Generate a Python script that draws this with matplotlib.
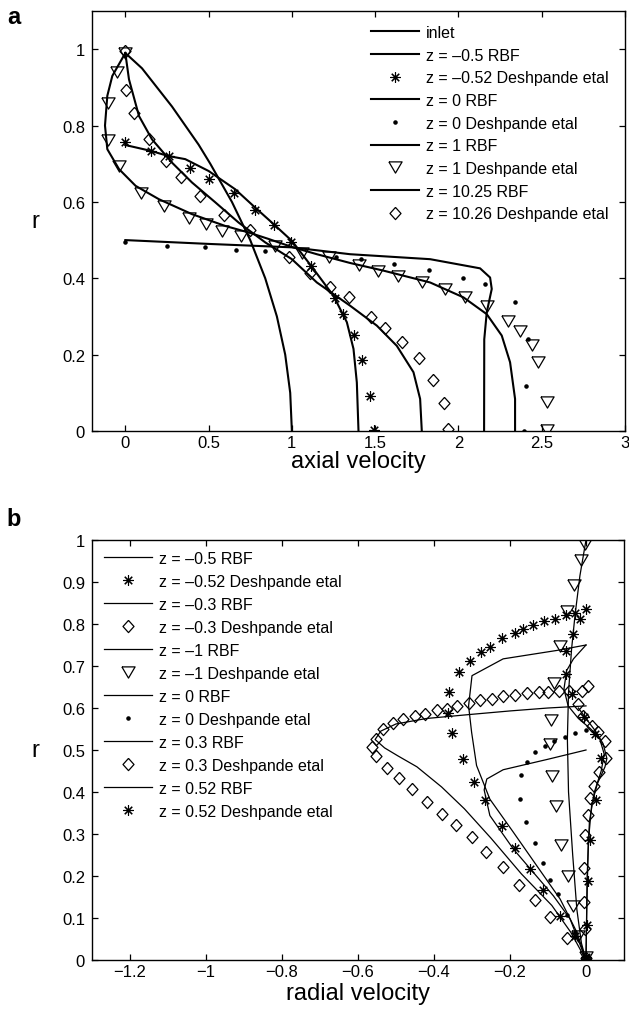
import matplotlib
matplotlib.use("Agg")
import matplotlib.pyplot as plt

plt.rcParams['font.family'] = ['Liberation Sans', 'DejaVu Sans']
plt.rcParams['axes.unicode_minus'] = True

# ---------------- Panel a data (axial velocity u vs r) ----------------
inlet_u = [0.0, 0.1, 0.19, 0.28, 0.36, 0.44, 0.51, 0.64, 0.75, 0.84, 0.91, 0.96, 0.99, 1.0]
inlet_r = [0.99, 0.95, 0.9, 0.85, 0.8, 0.75, 0.7, 0.6, 0.5, 0.4, 0.3, 0.2, 0.1, 0.0]

rbf_m05_u = [0.0, 0.15, 0.26, 0.36, 0.50, 0.66, 0.78, 0.89, 1.0, 1.12, 1.25, 1.33, 1.37, 1.39, 1.40]
rbf_m05_r = [0.749, 0.734, 0.72, 0.712, 0.681, 0.633, 0.585, 0.542, 0.498, 0.43, 0.354, 0.285, 0.215, 0.127, 0.0]

des_m052_u = [0.0, 0.152, 0.262, 0.386, 0.502, 0.652, 0.778, 0.892, 0.996, 1.114, 1.26, 1.306, 1.37, 1.424, 1.47, 1.494]
des_m052_r = [0.756, 0.734, 0.719, 0.688, 0.66, 0.623, 0.58, 0.54, 0.495, 0.433, 0.348, 0.306, 0.251, 0.187, 0.091, 0.003]

rbf_0_u = [0.0, 0.5, 1.0, 1.35, 1.83, 2.13, 2.19, 2.20, 2.17, 2.155, 2.154]
rbf_0_r = [0.5, 0.49, 0.481, 0.463, 0.45, 0.426, 0.402, 0.372, 0.311, 0.24, 0.0]

des_0_u = [0.0, 0.248, 0.478, 0.666, 0.836, 1.266, 1.414, 1.614, 1.824, 2.03, 2.16, 2.34, 2.42, 2.404, 2.395]
des_0_r = [0.494, 0.485, 0.481, 0.475, 0.472, 0.457, 0.45, 0.437, 0.422, 0.402, 0.385, 0.337, 0.24, 0.119, 0.0]

rbf_1_u = [0.0, -0.078, -0.108, -0.122, -0.108, -0.038, 0.062, 0.202, 0.40, 0.60, 0.74, 0.86, 1.0, 1.15,
           1.35, 1.55, 1.83, 2.03, 2.17, 2.26, 2.31, 2.34, 2.34]
rbf_1_r = [0.99, 0.93, 0.878, 0.80, 0.738, 0.686, 0.642, 0.607, 0.568, 0.537, 0.52, 0.503, 0.482, 0.463,
           0.44, 0.42, 0.389, 0.35, 0.306, 0.25, 0.18, 0.084, 0.0]

des_1_u = [0.0, -0.052, -0.104, -0.104, -0.038, 0.096, 0.233, 0.384, 0.484, 0.582, 0.693, 0.90, 1.063, 1.223,
           1.40, 1.52, 1.64, 1.78, 1.92, 2.04, 2.17, 2.30, 2.37, 2.44, 2.48, 2.53, 2.53]
des_1_r = [0.99, 0.94, 0.86, 0.762, 0.694, 0.624, 0.589, 0.559, 0.541, 0.524, 0.51, 0.484, 0.466, 0.455,
           0.434, 0.42, 0.405, 0.389, 0.372, 0.35, 0.328, 0.289, 0.263, 0.225, 0.181, 0.075, 0.003]

rbf_1025_u = [0.0, 0.022, 0.082, 0.16, 0.28, 0.40, 0.54, 0.68, 0.84, 1.0, 1.15, 1.35, 1.51, 1.63, 1.73, 1.77, 1.78]
rbf_1025_r = [0.99, 0.921, 0.825, 0.764, 0.703, 0.651, 0.599, 0.546, 0.494, 0.45, 0.389, 0.328, 0.276, 0.223,
              0.154, 0.084, 0.0]

des_1026_u = [0.0, 0.006, 0.05, 0.14, 0.246, 0.334, 0.45, 0.59, 0.746, 0.98, 1.11, 1.23, 1.345, 1.476, 1.56,
              1.664, 1.764, 1.846, 1.916, 1.94]
des_1026_r = [0.996, 0.893, 0.832, 0.766, 0.708, 0.664, 0.616, 0.565, 0.526, 0.455, 0.414, 0.377, 0.35, 0.299,
              0.271, 0.232, 0.19, 0.134, 0.073, 0.004]

# ---------------- Panel b data (radial velocity v vs r) ----------------
rbf_b_m05_v = [0.0, -0.077, -0.218, -0.30, -0.309, -0.301, -0.288, -0.253, -0.191, -0.13, -0.068, -0.024, 0.0]
rbf_b_m05_r = [0.75, 0.737, 0.717, 0.677, 0.605, 0.542, 0.463, 0.383, 0.304, 0.225, 0.145, 0.066, 0.0]

des_b_m052_v = [0.0, -0.029, -0.053, -0.082, -0.111, -0.139, -0.165, -0.187, -0.222, -0.253, -0.277, -0.305,
                -0.333, -0.36, -0.362, -0.353, -0.324, -0.294, -0.266, -0.222, -0.187, -0.147, -0.112, -0.068,
                -0.03, 0.0]
des_b_m052_r = [0.836, 0.826, 0.821, 0.812, 0.806, 0.798, 0.788, 0.778, 0.766, 0.745, 0.733, 0.713,
                0.685, 0.639, 0.588, 0.54, 0.479, 0.425, 0.381, 0.32, 0.267, 0.217, 0.167, 0.105,
                0.057, 0.006]

rbf_b_m03_v = [0.0, -0.1, -0.2, -0.3, -0.42, -0.5, -0.54, -0.555, -0.53, -0.495, -0.445, -0.38, -0.32, -0.25,
               -0.17, -0.09, -0.04, 0.0]
rbf_b_m03_r = [0.605, 0.6, 0.593, 0.585, 0.575, 0.562, 0.545, 0.525, 0.505, 0.486, 0.46, 0.412, 0.36, 0.29,
               0.205, 0.13, 0.066, 0.0]

des_b_m03_v = [0.005, -0.011, -0.044, -0.072, -0.099, -0.125, -0.156, -0.187, -0.218, -0.248, -0.279, -0.309,
               -0.34, -0.367, -0.393, -0.424, -0.45, -0.481, -0.508, -0.534, -0.553, -0.562, -0.553, -0.524,
               -0.492, -0.459, -0.418, -0.38, -0.342, -0.301, -0.264, -0.218, -0.176, -0.134, -0.095, -0.049, 0.0]
des_b_m03_r = [0.653, 0.641, 0.641, 0.64, 0.639, 0.637, 0.636, 0.631, 0.628, 0.621, 0.619, 0.613,
               0.605, 0.598, 0.596, 0.586, 0.58, 0.574, 0.564, 0.55, 0.526, 0.506, 0.486, 0.456,
               0.433, 0.406, 0.377, 0.348, 0.322, 0.292, 0.256, 0.221, 0.179, 0.144, 0.102, 0.052, 0.0]

rbf_b_m1_v = [0.0, -0.016, -0.029, -0.038, -0.046, -0.049, -0.046, -0.035, -0.024, -0.012, 0.0]
rbf_b_m1_r = [1.0, 0.915, 0.82, 0.74, 0.637, 0.526, 0.4, 0.25, 0.12, 0.04, 0.0]

des_b_m1_v = [-0.003, -0.013, -0.031, -0.051, -0.068, -0.084, -0.092, -0.096, -0.09, -0.079, -0.066, -0.048,
              -0.033, -0.02, 0.0]
des_b_m1_r = [0.99, 0.952, 0.893, 0.832, 0.747, 0.66, 0.572, 0.514, 0.439, 0.366, 0.274, 0.199,
              0.128, 0.056, 0.006]

rbf_b_0_v = [0.0, -0.1, -0.218, -0.261, -0.268, -0.253, -0.191, -0.139, -0.086, -0.042, 0.0]
rbf_b_0_r = [0.5, 0.478, 0.453, 0.431, 0.405, 0.344, 0.264, 0.209, 0.153, 0.098, 0.0]

des_b_0_v = [0.0, -0.029, -0.056, -0.084, -0.107, -0.134, -0.154, -0.17, -0.174, -0.157, -0.134, -0.112,
             -0.095, -0.075, -0.05, -0.029, 0.0]
des_b_0_r = [0.548, 0.54, 0.531, 0.522, 0.51, 0.495, 0.472, 0.441, 0.384, 0.328, 0.278, 0.232,
             0.19, 0.156, 0.106, 0.066, 0.005]

rbf_b_03_v = [-0.02, 0.0, 0.025, 0.045, 0.055, 0.05, 0.03, 0.015, 0.006, 0.002, 0.0]
rbf_b_03_r = [0.6, 0.575, 0.545, 0.515, 0.48, 0.46, 0.42, 0.37, 0.28, 0.12, 0.0]

des_b_03_v = [-0.02, -0.007, 0.015, 0.032, 0.05, 0.053, 0.035, 0.021, 0.011, 0.004, -0.003, -0.006, -0.005,
              -0.003, 0.0]
des_b_03_r = [0.61, 0.582, 0.558, 0.542, 0.522, 0.48, 0.447, 0.415, 0.385, 0.345, 0.298, 0.218, 0.137,
              0.074, 0.005]

rbf_b_052_v = [0.0, -0.033, -0.051, -0.058, -0.047, -0.02, 0.01, 0.035, 0.048, 0.04, 0.022, 0.009, 0.003, 0.0]
rbf_b_052_r = [0.75, 0.717, 0.689, 0.645, 0.605, 0.575, 0.552, 0.53, 0.49, 0.45, 0.4, 0.33, 0.2, 0.0]

des_b_052_v = [-0.016, -0.033, -0.053, -0.053, -0.038, -0.006, 0.024, 0.039, 0.025, 0.01, 0.004, 0.002, 0.0]
des_b_052_r = [0.812, 0.776, 0.736, 0.681, 0.633, 0.578, 0.538, 0.482, 0.38, 0.285, 0.187, 0.084, 0.003]

# labels
legend_a = ['inlet', 'z = \u20130.5 RBF', 'z = \u20130.52 Deshpande etal', 'z = 0 RBF',
            'z = 0 Deshpande etal', 'z = 1 RBF', 'z = 1 Deshpande etal', 'z = 10.25 RBF',
            'z = 10.26 Deshpande etal']
legend_b = ['z = \u20130.5 RBF', 'z = \u20130.52 Deshpande etal', 'z = \u20130.3 RBF',
            'z = \u20130.3 Deshpande etal', 'z = \u20131 RBF', 'z = \u20131 Deshpande etal',
            'z = 0 RBF', 'z = 0 Deshpande etal', 'z = 0.3 RBF', 'z = 0.3 Deshpande etal',
            'z = 0.52 RBF', 'z = 0.52 Deshpande etal']
xticks_a = [0, 0.5, 1, 1.5, 2, 2.5, 3]
xticklabels_a = ['0', '0.5', '1', '1.5', '2', '2.5', '3']
yticks_a = [0, 0.2, 0.4, 0.6, 0.8, 1]
yticklabels_a = ['0', '0.2', '0.4', '0.6', '0.8', '1']
xticks_b = [-1.2, -1.0, -0.8, -0.6, -0.4, -0.2, 0]
xticklabels_b = ['\u22121.2', '\u22121', '\u22120.8', '\u22120.6', '\u22120.4', '\u22120.2', '0']
yticks_b = [0, 0.1, 0.2, 0.3, 0.4, 0.5, 0.6, 0.7, 0.8, 0.9, 1]
yticklabels_b = ['0', '0.1', '0.2', '0.3', '0.4', '0.5', '0.6', '0.7', '0.8', '0.9', '1']

# marker shapes
AST = (8, 2, 0)
TRI = [(-1, 0.85), (1, 0.85), (0, -0.85), (-1, 0.85)]
DIA = [(0, 1), (0.9, 0), (0, -1), (-0.9, 0), (0, 1)]

ms_ast, ms_tri, ms_dia, ms_dot = 7.5, 9.5, 8.8, 4.5

fig = plt.figure(figsize=(6.29, 10.12), dpi=100)
W, H = 629, 1012
ax_a = fig.add_axes([92 / W, 1 - 432 / H, 533 / W, 420 / H])
ax_b = fig.add_axes([92 / W, 1 - 961 / H, 532 / W, 420 / H])

TICKFS = 12
LEGFS = 11.5


def style(ax):
    for s in ax.spines.values():
        s.set_linewidth(1.0)
        s.set_color('black')
    ax.tick_params(direction='in', top=True, right=True, length=4.5, width=0.9,
                   labelsize=TICKFS, pad=3, colors='black')
    ax.tick_params(axis='y', pad=5)


def mk(ax, x, y, marker, ms, lw=0.9):
    kw = dict(linestyle='none', marker=marker, markersize=ms, color='black')
    if marker == '.':
        pass
    elif marker == AST:
        kw['markeredgewidth'] = 0.8
    else:
        kw['markerfacecolor'] = 'none'
        kw['markeredgewidth'] = lw
    return ax.plot(x, y, **kw)[0]


# -------- Panel a --------
LWa = 1.5
h = []
h.append(ax_a.plot(inlet_u, inlet_r, color='black', lw=LWa)[0])
h.append(ax_a.plot(rbf_m05_u, rbf_m05_r, color='black', lw=LWa)[0])
h.append(mk(ax_a, des_m052_u, des_m052_r, AST, ms_ast))
h.append(ax_a.plot(rbf_0_u, rbf_0_r, color='black', lw=LWa)[0])
h.append(mk(ax_a, des_0_u, des_0_r, '.', ms_dot))
h.append(ax_a.plot(rbf_1_u, rbf_1_r, color='black', lw=LWa)[0])
h.append(mk(ax_a, des_1_u, des_1_r, TRI, ms_tri))
h.append(ax_a.plot(rbf_1025_u, rbf_1025_r, color='black', lw=LWa)[0])
h.append(mk(ax_a, des_1026_u, des_1026_r, DIA, ms_dia))

ax_a.set_xlim(-0.2, 3)
ax_a.set_ylim(0, 1.1)
ax_a.set_xticks(xticks_a)
ax_a.set_xticklabels(xticklabels_a)
ax_a.set_yticks(yticks_a)
ax_a.set_yticklabels(yticklabels_a)
style(ax_a)
ax_a.legend(h, legend_a, loc='upper left', bbox_to_anchor=((371 - 92) / 533, (432 - 26) / 420),
            frameon=False, fontsize=LEGFS, handlelength=3.0, handletextpad=0.45,
            labelspacing=0.48, borderpad=0, borderaxespad=0)

# -------- Panel b --------
LWb = 0.9
g = []
g.append(ax_b.plot(rbf_b_m05_v, rbf_b_m05_r, color='black', lw=LWb)[0])
g.append(mk(ax_b, des_b_m052_v, des_b_m052_r, AST, ms_ast))
g.append(ax_b.plot(rbf_b_m03_v, rbf_b_m03_r, color='black', lw=LWb)[0])
g.append(mk(ax_b, des_b_m03_v, des_b_m03_r, DIA, ms_dia))
g.append(ax_b.plot(rbf_b_m1_v, rbf_b_m1_r, color='black', lw=LWb)[0])
g.append(mk(ax_b, des_b_m1_v, des_b_m1_r, TRI, ms_tri))
g.append(ax_b.plot(rbf_b_0_v, rbf_b_0_r, color='black', lw=LWb)[0])
g.append(mk(ax_b, des_b_0_v, des_b_0_r, '.', ms_dot))
g.append(ax_b.plot(rbf_b_03_v, rbf_b_03_r, color='black', lw=LWb)[0])
g.append(mk(ax_b, des_b_03_v, des_b_03_r, DIA, ms_dia))
g.append(ax_b.plot(rbf_b_052_v, rbf_b_052_r, color='black', lw=LWb)[0])
g.append(mk(ax_b, des_b_052_v, des_b_052_r, AST, ms_ast))

ax_b.set_xlim(-1.3, 0.1)
ax_b.set_ylim(0, 1)
ax_b.set_xticks(xticks_b)
ax_b.set_xticklabels(xticklabels_b)
ax_b.set_yticks(yticks_b)
ax_b.set_yticklabels(yticklabels_b)
style(ax_b)
ax_b.legend(g, legend_b, loc='upper left', bbox_to_anchor=((104 - 92) / 532, (961 - 552) / 420),
            frameon=False, fontsize=LEGFS, handlelength=3.0, handletextpad=0.45,
            labelspacing=0.5, borderpad=0, borderaxespad=0)

# labels
LABFS = 17
fig.text(358 / W, 1 - 462 / H, 'axial velocity', ha='center', va='center', fontsize=LABFS)
fig.text(35 / W, 1 - 222 / H, 'r', ha='center', va='center', fontsize=LABFS)
fig.text(358 / W, 1 - 994 / H, 'radial velocity', ha='center', va='center', fontsize=LABFS)
fig.text(35 / W, 1 - 751 / H, 'r', ha='center', va='center', fontsize=LABFS)
fig.text(14 / W, 1 - 18 / H, 'a', ha='center', va='center', fontsize=17, fontweight='bold')
fig.text(14 / W, 1 - 520 / H, 'b', ha='center', va='center', fontsize=17, fontweight='bold')

fig.savefig('out.png', dpi=100)
